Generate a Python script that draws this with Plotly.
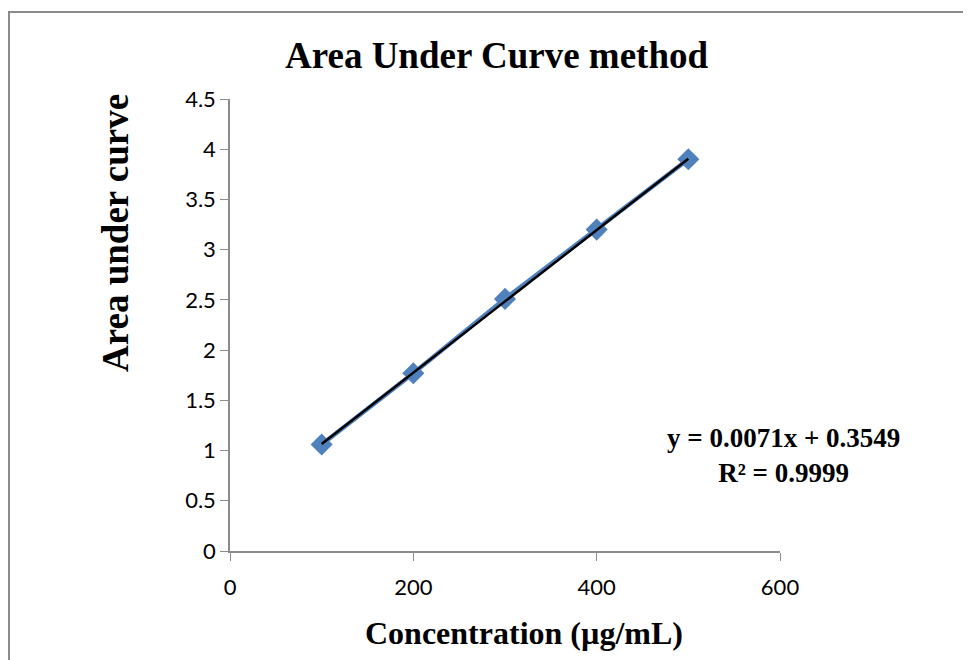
import plotly.graph_objects as go

concentration = [100, 200, 300, 400, 500]
auc = [1.06, 1.77, 2.51, 3.20, 3.90]
trend_slope = 0.0071
trend_intercept = 0.3549
r_squared = 0.9999

x_ticks = [0, 200, 400, 600]
y_ticks = [0, 0.5, 1, 1.5, 2, 2.5, 3, 3.5, 4, 4.5]
y_tick_text = ["0", "0.5", "1", "1.5", "2", "2.5", "3", "3.5", "4", "4.5"]

trend_x = [concentration[0], concentration[-1]]
trend_y = [trend_slope * v + trend_intercept for v in trend_x]

OFF = 8  # page body margin
W, H = 971 - OFF, 660 - OFF
L, T = 230 - OFF, 99 - OFF
pw, ph = 550, 452
R, B = W - L - pw, H - T - ph

fig = go.Figure()
fig.add_trace(go.Scatter(
    x=concentration, y=auc, mode="lines+markers",
    line=dict(color="#4F81BD", width=4.5),
    marker=dict(symbol="diamond", size=17, color="#4F81BD"),
    showlegend=False, cliponaxis=False))
fig.add_trace(go.Scatter(
    x=trend_x, y=trend_y, mode="lines",
    line=dict(color="black", width=2.5),
    showlegend=False, cliponaxis=False))

def px_to_paper_x(px):
    return (px - OFF - L) / pw

def px_to_paper_y(py):
    return (T + ph - (py - OFF)) / ph

fig.add_shape(type="rect", xref="paper", yref="paper",
              x0=px_to_paper_x(9), x1=px_to_paper_x(1000),
              y0=px_to_paper_y(700), y1=px_to_paper_y(12),
              line=dict(color="#8c8c8c", width=2), layer="below")

fig.add_annotation(
    xref="paper", yref="paper", x=px_to_paper_x(783), y=px_to_paper_y(455),
    xanchor="center", yanchor="middle",
    text=f"y = {trend_slope}x + {trend_intercept}<br>R² = {r_squared}",
    showarrow=False, align="center",
    font=dict(family="Liberation Serif", size=27, color="black", weight="bold"))

fig.add_annotation(
    xref="paper", yref="paper", x=px_to_paper_x(524), y=px_to_paper_y(633),
    xanchor="center", yanchor="middle",
    text="<b>Concentration (µg/mL)</b>", showarrow=False,
    font=dict(family="Liberation Serif", size=32, color="black"))

fig.add_annotation(
    xref="paper", yref="paper", x=px_to_paper_x(115), y=px_to_paper_y(233),
    xanchor="center", yanchor="middle", textangle=-90,
    text="<b>Area under curve</b>", showarrow=False,
    font=dict(family="Liberation Serif", size=37, color="black"))

fig.add_annotation(
    xref="paper", yref="paper", x=px_to_paper_x(496), y=px_to_paper_y(55),
    xanchor="center", yanchor="middle",
    text="<b>Area Under Curve method</b>", showarrow=False,
    font=dict(family="Liberation Serif", size=37, color="black"))

fig.update_layout(
    width=W, height=H,
    margin=dict(l=L, r=R, t=T, b=B),
    paper_bgcolor="white", plot_bgcolor="white",
    xaxis=dict(range=[0, 600], tickvals=x_ticks, ticks="outside", ticklen=8,
               tickcolor="#8c8c8c", showline=True, linecolor="#8c8c8c", linewidth=1.5,
               showgrid=False, zeroline=False,
               tickfont=dict(family="Lato", size=22, color="black"),
               ticklabelstandoff=8),
    yaxis=dict(range=[0, 4.5], tickvals=y_ticks, ticktext=y_tick_text,
               ticks="outside", ticklen=8,
               tickcolor="#8c8c8c", showline=True, linecolor="#8c8c8c", linewidth=1.5,
               showgrid=False, zeroline=False,
               tickfont=dict(family="Lato", size=22, color="black")),
)

fig.write_html("out.html")
